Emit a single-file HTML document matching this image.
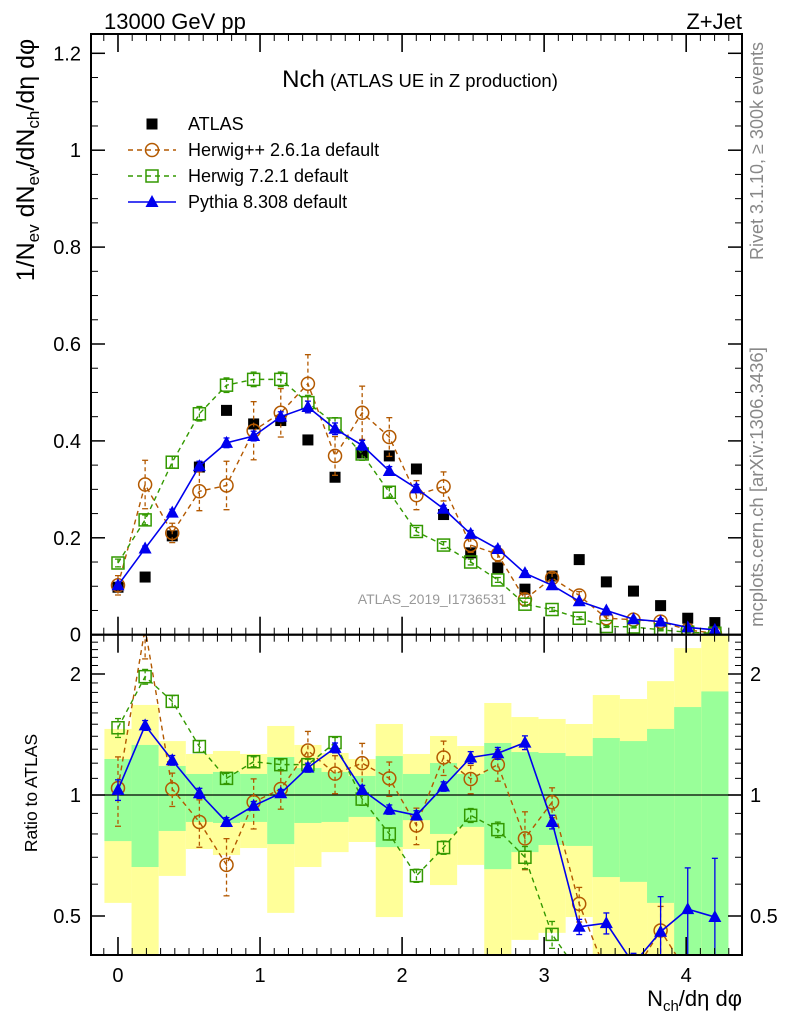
<!DOCTYPE html>
<html><head><meta charset="utf-8"><style>
html,body{margin:0;padding:0;background:#fff;overflow:hidden;width:786px;height:1024px;}
svg{display:block;}
svg text{font-family:"Liberation Sans",Arial,sans-serif;}
</style></head><body>
<svg id="c" width="786" height="1024" xmlns="http://www.w3.org/2000/svg">
<rect width="786" height="1024" fill="#fff"/>
<g id="bands"></g>
<g id="marks"></g>
<g id="axes"></g>
<text x="104" y="29" font-size="22">13000 GeV pp</text>
<text x="742" y="29" font-size="22" text-anchor="end">Z+Jet</text>
<text x="420" y="87" text-anchor="middle"><tspan font-size="24">Nch</tspan><tspan font-size="18.5"> (ATLAS UE in Z production)</tspan></text>
<text x="432" y="604" font-size="14" fill="#999" text-anchor="middle">ATLAS_2019_I1736531</text>
<text transform="translate(763,151) rotate(-90)" font-size="18" fill="#888" text-anchor="middle">Rivet 3.1.10, ≥ 300k events</text>
<text transform="translate(763,487) rotate(-90)" font-size="18.5" fill="#888" text-anchor="middle">mcplots.cern.ch [arXiv:1306.3436]</text>
<text transform="translate(34,160) rotate(-90)" font-size="25" text-anchor="middle">1/N<tspan font-size="17" dy="5">ev</tspan><tspan dy="-5"> dN</tspan><tspan font-size="17" dy="5">ev</tspan><tspan dy="-5">/dN</tspan><tspan font-size="17" dy="5">ch</tspan><tspan dy="-5">/dη dφ</tspan></text>
<text transform="translate(37,793) rotate(-90)" font-size="17.5" text-anchor="middle">Ratio to ATLAS</text>
<text x="742" y="1006" font-size="22" text-anchor="end">N<tspan font-size="15" dy="5">ch</tspan><tspan dy="-5">/dη dφ</tspan></text>
<g id="legend"></g>
</svg>
<script>
const xStep = 0.191;
const atlas = [0.098,0.119,0.204,0.346,0.463,0.435,0.442,0.402,0.325,0.375,0.369,0.342,0.248,0.169,0.138,0.094,0.121,0.155,0.109,0.090,0.060,0.034,0.025];
const hwpp = [0.102,0.31,0.21,0.296,0.308,0.421,0.458,0.518,0.369,0.458,0.408,0.288,0.306,0.185,0.166,0.073,0.117,0.081,0.034,0.031,0.027,0.01,0.003];
const hwppErr = [0.02,0.05,0.02,0.04,0.05,0.06,0.05,0.06,0.04,0.055,0.04,0.03,0.03,0.015,0.015,0.012,0.01,0.008,0.005,0.004,0.004,0.003,0.002];
const hw7 = [0.148,0.237,0.356,0.456,0.515,0.527,0.527,0.479,0.435,0.373,0.294,0.213,0.185,0.15,0.113,0.063,0.052,0.034,0.017,0.016,0.01,0.005,0.003];
const hw7Err = [0.008,0.01,0.012,0.015,0.015,0.015,0.015,0.015,0.013,0.013,0.01,0.008,0.007,0.006,0.005,0.004,0.004,0.003,0.002,0.002,0.002,0.001,0.001];
const py = [0.102,0.178,0.252,0.348,0.396,0.41,0.45,0.47,0.425,0.391,0.338,0.302,0.26,0.208,0.177,0.127,0.102,0.069,0.05,0.032,0.027,0.015,0.01];
const pyErr = [0.006,0.005,0.007,0.01,0.01,0.01,0.01,0.012,0.012,0.01,0.009,0.008,0.007,0.007,0.006,0.005,0.004,0.003,0.003,0.002,0.006,0.004,0.004];
const rPy = [1.03,1.49,1.22,1.01,0.857,0.94,1.01,1.17,1.31,1.03,0.92,0.89,1.05,1.24,1.27,1.35,0.857,0.47,0.48,0.38,0.457,0.52,0.497];
const rHwpp = [1.04,2.6,1.035,0.857,0.67,0.96,1.035,1.29,1.13,1.2,1.1,0.84,1.24,1.096,1.19,0.78,0.96,0.536,0.3,0.3,0.46,0.3,0.2];
const rHw7 = [1.47,1.97,1.71,1.32,1.1,1.21,1.19,1.19,1.35,0.977,0.8,0.63,0.74,0.89,0.82,0.70,0.45,0.3,0.3,0.3,0.3,0.3,0.3];
const statHi = [1.229,1.332,1.181,1.128,1.141,1.128,1.243,1.167,1.141,1.115,1.250,1.128,1.201,1.128,1.347,1.279,1.272,1.250,1.386,1.362,1.46,1.655,1.81];
const statLo = [0.768,0.662,0.814,0.857,0.852,0.857,0.755,0.852,0.857,0.882,0.742,0.866,0.800,0.833,0.654,0.721,0.751,0.747,0.625,0.608,0.539,0.3,0.3];
const totHi = [1.46,1.675,1.362,1.265,1.287,1.265,1.485,1.332,1.272,1.229,1.502,1.265,1.402,1.324,1.694,1.563,1.546,1.502,1.773,1.733,1.92,2.32,2.5];
const totLo = [0.539,0.3,0.629,0.734,0.709,0.738,0.509,0.662,0.721,0.764,0.497,0.734,0.597,0.670,0.3,0.436,0.454,0.497,0.3,0.3,0.3,0.3,0.3];
const mainTicks = ['0','0.2','0.4','0.6','0.8','1','1.2'];
const ratioTicks = ['0.5','1','2'];
const xTicks = ['0','1','2','3','4'];

const NS='http://www.w3.org/2000/svg';
const L=91,R=742,MT=34,MB=634.7,RB=955;
const XMIN=-0.19,XMAX=4.393;
const X=v=>L+(v-XMIN)/(XMAX-XMIN)*(R-L);
const Y=v=>MB-v*484.5;
const RMIN=0.4,RMAX=2.53;
const YR=v=>{v=Math.max(0.36,Math.min(2.75,v));return 795-Math.log2(v)*121;};
function mk(tag,attrs,parent){const e=document.createElementNS(NS,tag);for(const k in attrs)e.setAttribute(k,attrs[k]);parent.appendChild(e);return e;}
const gB=document.getElementById('bands'),gM=document.getElementById('marks'),gA=document.getElementById('axes'),gL=document.getElementById('legend');
const defs=mk('defs',{},document.getElementById('c'));
const c1=mk('clipPath',{id:'cm'},defs);mk('rect',{x:L,y:MT,width:R-L,height:MB-MT},c1);
const c2=mk('clipPath',{id:'cr'},defs);mk('rect',{x:L,y:MB,width:R-L,height:RB-MB},c2);
gB.setAttribute('clip-path','url(#cr)');
atlas.forEach((d,i)=>{
 const x0=X(i*xStep-xStep/2),x1=X(i*xStep+xStep/2);
 const b1=mk('rect',{x:x0,y:YR(totHi[i]),width:x1-x0,height:YR(totLo[i])-YR(totHi[i]),fill:'#ffff99'},gB);
 
 
 const b2=mk('rect',{x:x0,y:YR(statHi[i]),width:x1-x0,height:YR(statLo[i])-YR(statHi[i]),fill:'#99ff99'},gB);
 
 
});
mk('line',{x1:L,x2:R,y1:YR(1),y2:YR(1),stroke:'#000','stroke-width':1.2},gB);
const gMain=mk('g',{'clip-path':'url(#cm)'},gM);
const gRat=mk('g',{'clip-path':'url(#cr)'},gM);
function marker(type,x,y,col,g){
 let e;
 if(type==='sq') e=mk('rect',{x:x-5.5,y:y-5.5,width:11,height:11,fill:'#000'},g);
 else if(type==='circ') e=mk('circle',{cx:x,cy:y,r:6.5,fill:'none',stroke:col,'stroke-width':1.5},g);
 else if(type==='osq') e=mk('rect',{x:x-6,y:y-6,width:12,height:12,fill:'none',stroke:col,'stroke-width':1.5},g);
 else e=mk('path',{d:`M${x},${y-7}L${x+6.5},${y+5}L${x-6.5},${y+5}Z`,fill:col},g);
 return e;
}
function series(vals,errs,rat,col,type,dash,name){
 const pts=vals.map((v,i)=>[X(i*xStep),Y(v)]);
 const pl=mk('polyline',{points:pts.map(p=>p.join(',')).join(' '),fill:'none',stroke:col,'stroke-width':dash?1.4:1.6,'stroke-dasharray':dash?'5,4':'none'},gMain);
 
 
 const rp=rat.map((v,i)=>[X(i*xStep),YR(v)]);
 const rl=mk('polyline',{points:rp.map(p=>p.join(',')).join(' '),fill:'none',stroke:col,'stroke-width':dash?1.4:1.6,'stroke-dasharray':dash?'5,4':'none'},gRat);
 
 
 vals.forEach((v,i)=>{
  const x=X(i*xStep),e=errs[i];
  const da=dash?'4,3':'none';
  mk('line',{x1:x,x2:x,y1:Y(v+e),y2:Y(v-e),stroke:col,'stroke-width':1.3,'stroke-dasharray':da},gMain);
  mk('line',{x1:x-3,x2:x+3,y1:Y(v+e),y2:Y(v+e),stroke:col,'stroke-width':1.3},gMain);
  mk('line',{x1:x-3,x2:x+3,y1:Y(v-e),y2:Y(v-e),stroke:col,'stroke-width':1.3},gMain);
  const m=marker(type,x,Y(v),col,gMain);
  
  
  const r=rat[i],re=r*e/Math.max(v,0.005);
  const lo=Math.max(0.36,r-re);
  mk('line',{x1:x,x2:x,y1:YR(r+re),y2:YR(lo),stroke:col,'stroke-width':1.3,'stroke-dasharray':da},gRat);
  mk('line',{x1:x-3,x2:x+3,y1:YR(r+re),y2:YR(r+re),stroke:col,'stroke-width':1.3},gRat);
  mk('line',{x1:x-3,x2:x+3,y1:YR(lo),y2:YR(lo),stroke:col,'stroke-width':1.3},gRat);
  const rm=marker(type,x,YR(r),col,gRat);
  
  
 });
}
atlas.forEach((v,i)=>{
 const m=marker('sq',X(i*xStep),Y(v),'#000',gMain);
 
 
});
series(hwpp,hwppErr,rHwpp,'#b35900','circ',true,'herwigpp');
series(hw7,hw7Err,rHw7,'#339900','osq',true,'herwig7');
series(py,pyErr,rPy,'#0000ee','tri',false,'pythia');
mk('rect',{x:L,y:MT,width:R-L,height:MB-MT,fill:'none',stroke:'#000','stroke-width':2},gA);
mk('rect',{x:L,y:MB,width:R-L,height:RB-MB,fill:'none',stroke:'#000','stroke-width':2},gA);
for(let k=-1;k<=44;k++){const v=k/10;if(v<XMIN||v>XMAX)continue;const x=X(v);const maj=k%10===0;const len=maj?18:7;
 [MB,RB].forEach(yb=>{mk('line',{x1:x,x2:x,y1:yb,y2:yb-len,stroke:'#000','stroke-width':maj?1.6:1},gA);});
 [MT,MB].forEach(yt=>{mk('line',{x1:x,x2:x,y1:yt,y2:yt+len,stroke:'#000','stroke-width':maj?1.6:1},gA);});
}
xTicks.forEach(t=>{const tx=mk('text',{x:X(+t),y:982,'font-size':20,'text-anchor':'middle'},gA);tx.textContent=t;
 
 });
for(let k=0;k<=24;k++){const v=k*0.05;const y=Y(v);const maj=k%4===0;const len=maj?14:7;
 mk('line',{x1:L,x2:L+len,y1:y,y2:y,stroke:'#000','stroke-width':maj?1.5:1},gA);
 mk('line',{x1:R,x2:R-len,y1:y,y2:y,stroke:'#000','stroke-width':maj?1.5:1},gA);}
mainTicks.forEach(t=>{const tx=mk('text',{x:81,y:Y(+t)+7,'font-size':20,'text-anchor':'end'},gA);tx.textContent=t;
 
 });
for(let k=4;k<=25;k++){const v=k/10;if(v<RMIN||v>RMAX)continue;const y=YR(v);const maj=(k===5||k===10||k===20);const len=maj?14:7;
 mk('line',{x1:L,x2:L+len,y1:y,y2:y,stroke:'#000','stroke-width':maj?1.5:1},gA);
 mk('line',{x1:R,x2:R-len,y1:y,y2:y,stroke:'#000','stroke-width':maj?1.5:1},gA);}
ratioTicks.forEach(t=>{
 const a=mk('text',{x:81,y:YR(+t)+7,'font-size':20,'text-anchor':'end'},gA);a.textContent=t;
 
 
 const b=mk('text',{x:750,y:YR(+t)+7,'font-size':20},gA);b.textContent=t;
 
 });
const leg=[['ATLAS','#000','sq',false],['Herwig++ 2.6.1a default','#b35900','circ',true],['Herwig 7.2.1 default','#339900','osq',true],['Pythia 8.308 default','#0000ee','tri',false]];
leg.forEach((l,i)=>{const y=124+i*26;const g=mk('g',{},gL);
 
 
 if(i>0) mk('line',{x1:128,x2:176,y1:y,y2:y,stroke:l[1],'stroke-width':1.4,'stroke-dasharray':l[3]?'5,4':'none'},g);
 marker(l[2],152,y,l[1],g);
 const t=mk('text',{x:188,y:y+6,'font-size':18},g);t.textContent=l[0];});
</script>
</body></html>
